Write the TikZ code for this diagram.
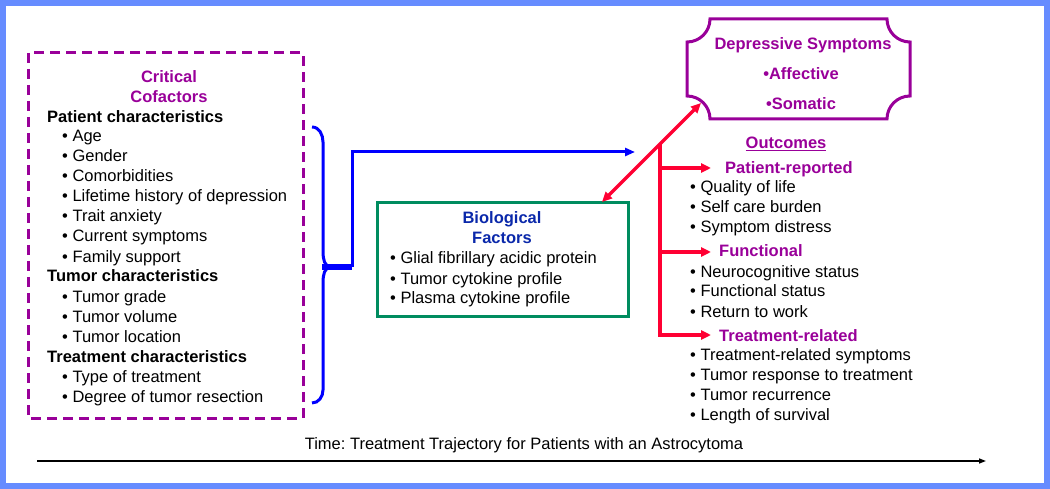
\documentclass[tikz,border=0pt]{standalone}
\usepackage{fontspec}
\setmainfont{Liberation Sans}
\usetikzlibrary{arrows.meta}
\usetikzlibrary{positioning}
\frenchspacing

\definecolor{framecol}{RGB}{102,140,255}
\definecolor{cofpurple}{RGB}{153,0,153}
\definecolor{biogreen}{RGB}{0,140,95}
\definecolor{bioblue}{RGB}{10,40,170}
\definecolor{outred}{RGB}{255,0,51}

\begin{document}
\begin{tikzpicture}[x=1pt,y=-1pt,
	every node/.style={inner sep=0pt, font=\fontsize{16.5}{20}\selectfont},
	item/.style={anchor=base west},
	head/.style={anchor=base west, font=\fontsize{16.5}{20}\selectfont\bfseries},
	title/.style={anchor=base, font=\fontsize{16.5}{20}\selectfont\bfseries}]
	\useasboundingbox (0,0) rectangle (1050,489);
	\draw[framecol, line width=6pt] (3,3) rectangle (1047,486);

	% critical cofactors
	\begin{scope}[every node/.append style={text=black}]
		\draw[cofpurple, line width=3pt, dash pattern=on 10pt off 6pt] (28,53) rectangle (303,418);
		\node[title, text=cofpurple] (crit) at (169,83) {Critical};
		\node[title, text=cofpurple] (cof) at (169,103) {Cofactors};
		\node[head] (pat) at (47,123) {Patient characteristics};
		\node[item] (age) at (62,142) {• Age};
		\node[item] (gen) at (62,162) {• Gender};
		\node[item] (com) at (62,182) {• Comorbidities};
		\node[item] (life) at (62,202) {• Lifetime history of depression};
		\node[item] (trait) at (62,222) {• Trait anxiety};
		\node[item] (cur) at (62,242) {• Current symptoms};
		\node[item] (fam) at (62,262) {• Family support};
		\node[head] (tum) at (47,282) {Tumor characteristics};
		\node[item] (grade) at (62,302) {• Tumor grade};
		\node[item] (vol) at (62,322) {• Tumor volume};
		\node[item] (loc) at (62,342) {• Tumor location};
		\node[head] (treat) at (47,362) {Treatment characteristics};
		\node[item] (type) at (62,382) {• Type of treatment};
		\node[item] (deg) at (62,402) {• Degree of tumor resection};
	\end{scope}

	% brace and blue connector
	\coordinate (btop) at (312,127);
	\coordinate (bbot) at (312,403);
	\coordinate (tip) at (331,267);
	\coordinate (join) at (352,267);
	\coordinate (reach) at (635,152);
	\draw[blue, line width=3pt] (btop) to[out=0,in=90] (323,142) -- (323,252)
		to[out=-90,in=180] (tip) to[out=180,in=90] (323,282) -- (323,390)
		to[out=-90,in=0] (bbot);
	\draw[blue, line width=6pt] (322,267) -- (join);
	\draw[blue, line width=3pt, -{Triangle[length=10pt,width=8pt]}] (join) |- (reach);

	% biological factors
	\node[draw=biogreen, line width=3pt, minimum width=251pt, minimum height=113pt] (bio) at (502.5,259.5) {};
	\node[title, text=bioblue] (biot) at (502,224) {Biological};
	\node[title, text=bioblue] (biof) at (502,244) {Factors};
	\node[item] (gfap) at (390,264) {• Glial fibrillary acidic protein};
	\node[item] (tcyt) at (390,284) {• Tumor cytokine profile};
	\node[item] (pcyt) at (390,304) {• Plasma cytokine profile};

	% depressive symptoms
	\draw[cofpurple, line width=3pt] (710,19) -- (887,19) arc[start angle=180, end angle=270, radius=23pt]
		-- (910,96) arc[start angle=90, end angle=180, radius=23pt]
		-- (710,119) arc[start angle=0, end angle=90, radius=23pt]
		-- (687,42) arc[start angle=-90, end angle=0, radius=23pt] -- cycle;
	\node[title, text=cofpurple] (dep) at (803,50) {Depressive Symptoms};
	\node[title, text=cofpurple] (aff) at (801,80) {•Affective};
	\node[title, text=cofpurple] (som) at (801,110) {•Somatic};

	% outcomes
	\node[title, text=cofpurple] (outc) at (786,149) {\underline{Outcomes}};
	\node[head, text=cofpurple] (prep) at (725,174) {Patient-reported};
	\node[item] (qol) at (690,193) {• Quality of life};
	\node[item] (self) at (690,213) {• Self care burden};
	\node[item] (sdis) at (690,233) {• Symptom distress};
	\node[head, text=cofpurple] (func) at (719,257) {Functional};
	\node[item] (neur) at (690,277) {• Neurocognitive status};
	\node[item] (fst) at (690,297) {• Functional status};
	\node[item] (ret) at (690,317) {• Return to work};
	\node[head, text=cofpurple] (trel) at (719,341) {Treatment-related};
	\node[item] (tsym) at (690,360) {• Treatment-related symptoms};
	\node[item] (tresp) at (690,380) {• Tumor response to treatment};
	\node[item] (trec) at (690,400) {• Tumor recurrence};
	\node[item] (surv) at (690,420) {• Length of survival};

	% red connectors
	\coordinate (biotip) at (602,202);
	\coordinate (deptip) at (701,103);
	\coordinate (hub) at (660,144);
	\coordinate (prepin) at (711,168);
	\coordinate (funcin) at (711,252);
	\coordinate (trelin) at (711,335);
	\begin{scope}[outred, line width=3.5pt, >={Triangle[length=10pt,width=9pt]}]
		\draw[<->] (biotip) -- (deptip);
		\draw[->] (hub) |- (trelin);
		\draw[->] (660,168) -- (prepin);
		\draw[->] (660,252) -- (funcin);
	\end{scope}

	% time axis
	\coordinate (tstart) at (37,461);
	\coordinate (tend) at (986,461);
	\node[anchor=base] (time) at (524,449) {Time: Treatment Trajectory for Patients with an Astrocytoma};
	\draw[line width=1.5pt, -{Triangle[length=7pt,width=5pt]}] (tstart) -- (tend);
\end{tikzpicture}
\end{document}
